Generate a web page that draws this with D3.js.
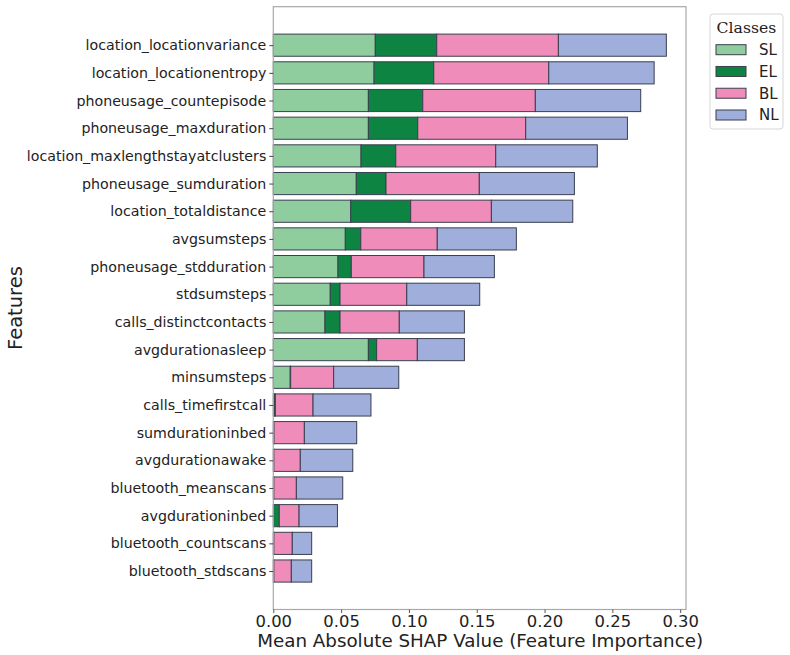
<!DOCTYPE html>
<html>
<head>
<meta charset="utf-8">
<script src="https://cdn.jsdelivr.net/npm/d3@7"></script>
<style>
  html, body { margin: 0; padding: 0; background: #fff; }
  svg { display: block; }
</style>
</head>
<body>
<svg id="chart" width="790" height="655"></svg>
<script>
// ---- Data ----
const features = [
  "location_locationvariance",
  "location_locationentropy",
  "phoneusage_countepisode",
  "phoneusage_maxduration",
  "location_maxlengthstayatclusters",
  "phoneusage_sumduration",
  "location_totaldistance",
  "avgsumsteps",
  "phoneusage_stdduration",
  "stdsumsteps",
  "calls_distinctcontacts",
  "avgdurationasleep",
  "minsumsteps",
  "calls_timefirstcall",
  "sumdurationinbed",
  "avgdurationawake",
  "bluetooth_meanscans",
  "avgdurationinbed",
  "bluetooth_countscans",
  "bluetooth_stdscans"
];
const classes = ["SL", "EL", "BL", "NL"];
const SL = [0.0752, 0.0743, 0.0701, 0.0701, 0.0647, 0.0612, 0.0571, 0.0531, 0.0477, 0.0420,
            0.0381, 0.0701, 0.0125, 0.0010, 0.0003, 0.0002, 0.0002, 0.0002, 0.0002, 0.0002];
const EL = [0.0453, 0.0440, 0.0401, 0.0364, 0.0256, 0.0219, 0.0442, 0.0114, 0.0098, 0.0072,
            0.0111, 0.0061, 0.0003, 0.0005, 0.0002, 0.0002, 0.0002, 0.0042, 0.0002, 0.0002];
const BL = [0.0897, 0.0848, 0.0830, 0.0796, 0.0737, 0.0688, 0.0595, 0.0564, 0.0536, 0.0492,
            0.0437, 0.0300, 0.0317, 0.0278, 0.0224, 0.0195, 0.0166, 0.0146, 0.0136, 0.0129];
const NL = [0.0796, 0.0777, 0.0777, 0.0750, 0.0749, 0.0701, 0.0600, 0.0583, 0.0519, 0.0538,
            0.0480, 0.0347, 0.0480, 0.0427, 0.0386, 0.0387, 0.0342, 0.0283, 0.0143, 0.0150];
const xTicks = [0.00, 0.05, 0.10, 0.15, 0.20, 0.25, 0.30];
const colors = ["#8fcd9f", "#0d8442", "#f08cb9", "#9faedb"];

(function () {
// ---- Layout ----
const svg = d3.select("#chart");
const pL = 273.3, pR = 686, pT = 6.7, pB = 609.5;

const seriesVals = [SL, EL, BL, NL];
const rows = features.map((f, i) => {
  const r = { feature: f, idx: i };
  classes.forEach((c, k) => r[c] = seriesVals[k][i]);
  return r;
});
const stack = d3.stack().keys(classes)(rows);
const maxTotal = d3.max(rows, r => classes.reduce((s, c) => s + r[c], 0));

const x = d3.scaleLinear().domain([0, maxTotal * 1.05]).range([pL, pR]);
const n = features.length;
const pad = 0.4 + 0.05 * (n - 1 + 0.8);
const y = d3.scaleLinear().domain([-pad, n - 1 + pad]).range([pT, pB]);
const barH = y(0.8) - y(0);

// bars
const g = svg.append("g");
stack.forEach((layer, k) => {
  g.append("g")
    .selectAll("rect")
    .data(layer)
    .join("rect")
    .attr("x", d => x(d[0]))
    .attr("width", d => Math.max(0, x(d[1]) - x(d[0])))
    .attr("y", (d, i) => y(i) - barH / 2)
    .attr("height", barH)
    .attr("fill", colors[k])
    .attr("stroke", "#3a3f4f")
    .attr("stroke-width", 1);
});

// frame
svg.append("rect")
  .attr("x", pL).attr("y", pT)
  .attr("width", pR - pL).attr("height", pB - pT)
  .attr("fill", "none").attr("stroke", "#a8a8a8").attr("stroke-width", 1.2);

// x axis
const xAxis = d3.axisBottom(x).tickValues(xTicks).tickFormat(d3.format(".2f")).tickSize(3.5).tickPadding(2.5);
const gx = svg.append("g").attr("transform", `translate(0,${pB})`).call(xAxis);
gx.select(".domain").remove();
gx.selectAll(".tick line").attr("stroke", "#555");
gx.selectAll("text").attr("font-family", "DejaVu Sans").attr("font-size", 16.4).attr("fill", "#222");

// y axis
const yAxis = d3.axisLeft(y).tickValues(d3.range(n)).tickFormat(i => features[i]).tickSize(4).tickPadding(3);
const gy = svg.append("g").attr("transform", `translate(${pL},0)`).call(yAxis);
gy.select(".domain").remove();
gy.selectAll(".tick line").attr("stroke", "#444");
gy.selectAll("text").attr("font-family", "DejaVu Sans").attr("font-size", 14.2).attr("fill", "#222");

// axis labels
svg.append("text")
  .attr("x", (pL + pR) / 2 + 0.5).attr("y", 647)
  .attr("text-anchor", "middle")
  .attr("font-family", "DejaVu Sans").attr("font-size", 18.3).attr("fill", "#222")
  .text("Mean Absolute SHAP Value (Feature Importance)");

svg.append("text")
  .attr("transform", `translate(22,${(pT + pB) / 2}) rotate(-90)`)
  .attr("text-anchor", "middle")
  .attr("font-family", "DejaVu Sans").attr("font-size", 19.5).attr("fill", "#222")
  .text("Features");

// legend
const lg = svg.append("g");
lg.append("rect")
  .attr("x", 710).attr("y", 14).attr("width", 73).attr("height", 115)
  .attr("rx", 3).attr("fill", "#fff").attr("fill-opacity", 0.8)
  .attr("stroke", "#d6d6d6").attr("stroke-width", 1);
lg.append("text")
  .attr("x", 746.5).attr("y", 32.5)
  .attr("text-anchor", "middle")
  .attr("font-family", "DejaVu Serif").attr("font-size", 15.7).attr("fill", "#222")
  .text("Classes");
const ly = d3.scalePoint().domain(classes).range([49.7, 115]);
classes.forEach((c, k) => {
  lg.append("rect")
    .attr("x", 716).attr("y", ly(c) - 5).attr("width", 30).attr("height", 10)
    .attr("fill", colors[k]).attr("stroke", "#3a3f4f").attr("stroke-width", 1);
  lg.append("text")
    .attr("x", 759).attr("y", ly(c) + 5.3)
    .attr("font-family", "DejaVu Sans").attr("font-size", 15).attr("fill", "#222")
    .text(c);
});
})();
</script>
</body>
</html>
